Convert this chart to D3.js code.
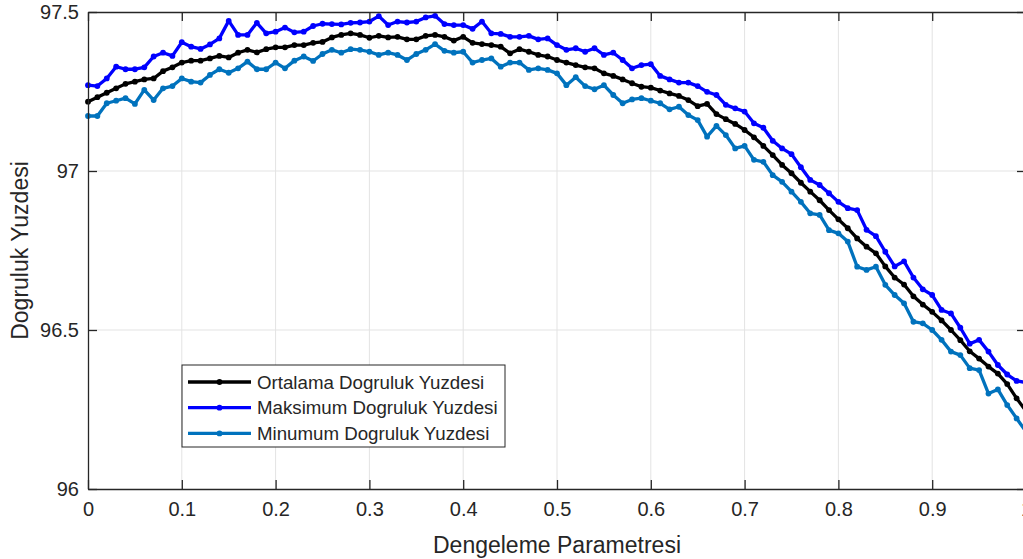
<!DOCTYPE html>
<html>
<head>
<meta charset="utf-8">
<script src="https://cdn.jsdelivr.net/npm/d3@7"></script>
<style>
  body { margin: 0; background: #fff; }
  svg { display: block; }
  text { font-family: "Liberation Sans", Arial, sans-serif; fill: #262626; }
</style>
</head>
<body>
<div id="plot"></div>
<script>
// Parameter grid (0 : 0.01 : 1)
const xValues = d3.range(0, 101).map(i => i / 100);

// Accuracy series
const meanValues = [
  97.218, 97.232, 97.246, 97.26, 97.274, 97.281, 97.288, 97.291, 97.314, 97.326,
  97.341, 97.347, 97.347, 97.354, 97.362, 97.357, 97.372, 97.381, 97.373, 97.383,
  97.389, 97.389, 97.396, 97.396, 97.403, 97.406, 97.42, 97.428, 97.433, 97.428,
  97.419, 97.425, 97.42, 97.422, 97.414, 97.414, 97.425, 97.428, 97.422, 97.41,
  97.422, 97.403, 97.399, 97.396, 97.391, 97.37, 97.383, 97.375, 97.365, 97.36,
  97.349, 97.341, 97.333, 97.326, 97.323, 97.307, 97.299, 97.288, 97.276, 97.265,
  97.262, 97.253, 97.244, 97.236, 97.223, 97.204, 97.211, 97.179, 97.163, 97.148,
  97.129, 97.106, 97.079, 97.05, 97.019, 96.993, 96.963, 96.935, 96.908, 96.877,
  96.848, 96.82, 96.788, 96.762, 96.741, 96.70, 96.665, 96.643, 96.606, 96.58,
  96.557, 96.53, 96.50, 96.468, 96.433, 96.41, 96.385, 96.363, 96.33, 96.285,
  96.245
];
const maxValues = [
  97.27, 97.267, 97.291, 97.328, 97.32, 97.32, 97.326, 97.36, 97.372, 97.362,
  97.405, 97.391, 97.384, 97.398, 97.417, 97.472, 97.428, 97.428, 97.466, 97.433,
  97.438, 97.451, 97.436, 97.438, 97.456, 97.463, 97.462, 97.461, 97.466, 97.467,
  97.47, 97.487, 97.459, 97.47, 97.467, 97.47, 97.483, 97.488, 97.462, 97.459,
  97.459, 97.447, 97.47, 97.433, 97.431, 97.422, 97.422, 97.425, 97.414, 97.417,
  97.396, 97.381, 97.386, 97.375, 97.386, 97.365, 97.372, 97.349, 97.323, 97.333,
  97.336, 97.299, 97.288, 97.278, 97.278, 97.267, 97.249, 97.239, 97.208, 97.197,
  97.187, 97.15, 97.136, 97.095, 97.071, 97.053, 97.012, 96.972, 96.956, 96.93,
  96.903, 96.883, 96.877, 96.815, 96.795, 96.746, 96.70, 96.716, 96.665, 96.628,
  96.61, 96.563, 96.552, 96.507, 96.457, 96.469, 96.432, 96.39, 96.36, 96.34,
  96.335
];
const minValues = [
  97.173, 97.173, 97.213, 97.221, 97.229, 97.211, 97.255, 97.223, 97.26, 97.267,
  97.291, 97.281, 97.278, 97.302, 97.32, 97.309, 97.323, 97.344, 97.32, 97.32,
  97.341, 97.323, 97.347, 97.36, 97.346, 97.368, 97.381, 97.372, 97.383, 97.381,
  97.375, 97.365, 97.372, 97.365, 97.349, 97.368, 97.381, 97.399, 97.378, 97.372,
  97.375, 97.341, 97.349, 97.354, 97.328, 97.341, 97.341, 97.318, 97.323, 97.318,
  97.307, 97.27, 97.295, 97.267, 97.257, 97.27, 97.239, 97.213, 97.225, 97.229,
  97.221, 97.213, 97.194, 97.202, 97.176, 97.16, 97.108, 97.142, 97.113, 97.071,
  97.079, 97.035, 97.029, 96.987, 96.966, 96.935, 96.903, 96.867, 96.862, 96.814,
  96.804, 96.778, 96.699, 96.689, 96.699, 96.642, 96.61, 96.584, 96.526, 96.521,
  96.5, 96.469, 96.432, 96.421, 96.38, 96.374, 96.30, 96.313, 96.264, 96.222,
  96.18
];

const seriesNames = ["Ortalama Dogruluk Yuzdesi", "Maksimum Dogruluk Yuzdesi", "Minumum Dogruluk Yuzdesi"];
const seriesColors = ["#000000", "#0000ff", "#0072bd"];
const xTicks = [0, 0.1, 0.2, 0.3, 0.4, 0.5, 0.6, 0.7, 0.8, 0.9, 1];
const yTicks = [96, 96.5, 97, 97.5];

const series = [meanValues, maxValues, minValues].map((vals, k) => ({
  name: seriesNames[k],
  color: seriesColors[k],
  points: vals.map((v, i) => ({ x: xValues[i], y: v }))
}));

// Layout (the axes box runs a little past the right edge of the window)
const W = 1023, H = 559;
const margin = { top: 12, left: 88 };
const width = 938;
const height = 477;

const root = d3.select("#plot")
  .append("svg")
  .attr("width", W)
  .attr("height", H);

const svg = root.append("g")
  .attr("transform", `translate(${margin.left}, ${margin.top})`);

const x = d3.scaleLinear().domain([0, 1]).range([0, width]);
const y = d3.scaleLinear().domain([96, 97.5]).range([height, 0]);

// Grid
svg.append("g")
  .selectAll("line")
  .data(xTicks.slice(1, -1))
  .enter().append("line")
  .attr("x1", d => x(d)).attr("x2", d => x(d))
  .attr("y1", 0).attr("y2", height)
  .attr("stroke", "#e3e3e3").attr("stroke-width", 1);

svg.append("g")
  .selectAll("line")
  .data(yTicks.slice(1, -1))
  .enter().append("line")
  .attr("x1", 0).attr("x2", width)
  .attr("y1", d => y(d)).attr("y2", d => y(d))
  .attr("stroke", "#e3e3e3").attr("stroke-width", 1);

// Lines with dot markers
const line = d3.line().x(d => x(d.x)).y(d => y(d.y));

series.slice().reverse().forEach(s => {
  svg.append("path")
    .datum(s.points)
    .attr("d", line)
    .attr("fill", "none")
    .attr("stroke", s.color)
    .attr("stroke-width", 3.3)
    .attr("stroke-linejoin", "round");
  svg.append("g")
    .selectAll("circle")
    .data(s.points)
    .enter().append("circle")
    .attr("cx", d => x(d.x))
    .attr("cy", d => y(d.y))
    .attr("r", 2.9)
    .attr("fill", s.color);
});

// Axes (MATLAB style: ticks inward, box on)
const tickLen = 9;
const axisColor = "#262626";

const xAxis = svg.append("g")
  .attr("transform", `translate(0, ${height})`)
  .call(d3.axisBottom(x).tickValues(xTicks).tickFormat(d3.format("")).tickSizeInner(-tickLen).tickSizeOuter(0).tickPadding(13));
const yAxis = svg.append("g")
  .call(d3.axisLeft(y).tickValues(yTicks).tickFormat(d3.format("")).tickSizeInner(-tickLen).tickSizeOuter(0).tickPadding(9));
const xTop = svg.append("g")
  .call(d3.axisTop(x).tickValues(xTicks).tickFormat("").tickSizeInner(-tickLen).tickSizeOuter(0));
const yRight = svg.append("g")
  .attr("transform", `translate(${width}, 0)`)
  .call(d3.axisRight(y).tickValues(yTicks).tickFormat("").tickSizeInner(-tickLen).tickSizeOuter(0));

[xAxis, yAxis, xTop, yRight].forEach(a => {
  a.select(".domain").attr("stroke", axisColor).attr("stroke-width", 1.3);
  a.selectAll(".tick line").attr("stroke", axisColor).attr("stroke-width", 1.3);
  a.selectAll(".tick text")
    .attr("fill", axisColor)
    .style("font-size", "20px")
    .style("font-family", "'Liberation Sans', Arial, sans-serif");
});

// Axis titles
root.append("text")
  .attr("x", margin.left + x(0.5))
  .attr("y", 553)
  .attr("text-anchor", "middle")
  .style("font-size", "23px")
  .text("Dengeleme Parametresi");

root.append("text")
  .attr("transform", `translate(28, ${margin.top + height / 2}) rotate(-90)`)
  .attr("text-anchor", "middle")
  .style("font-size", "23px")
  .text("Dogruluk Yuzdesi");

// Legend
const legend = root.append("g").attr("transform", "translate(182, 365)");
legend.append("rect")
  .attr("width", 323).attr("height", 82)
  .attr("fill", "#fff")
  .attr("stroke", axisColor).attr("stroke-width", 1);

series.forEach((s, i) => {
  const row = legend.append("g").attr("transform", `translate(0, ${17 + i * 25.7})`);
  row.append("line")
    .attr("x1", 6).attr("x2", 69)
    .attr("stroke", s.color).attr("stroke-width", 3.3);
  row.append("circle")
    .attr("cx", 37.5).attr("r", 2.9).attr("fill", s.color);
  row.append("text")
    .attr("x", 75).attr("dy", "0.35em")
    .style("font-size", "18.7px")
    .text(s.name);
});
</script>
</body>
</html>
